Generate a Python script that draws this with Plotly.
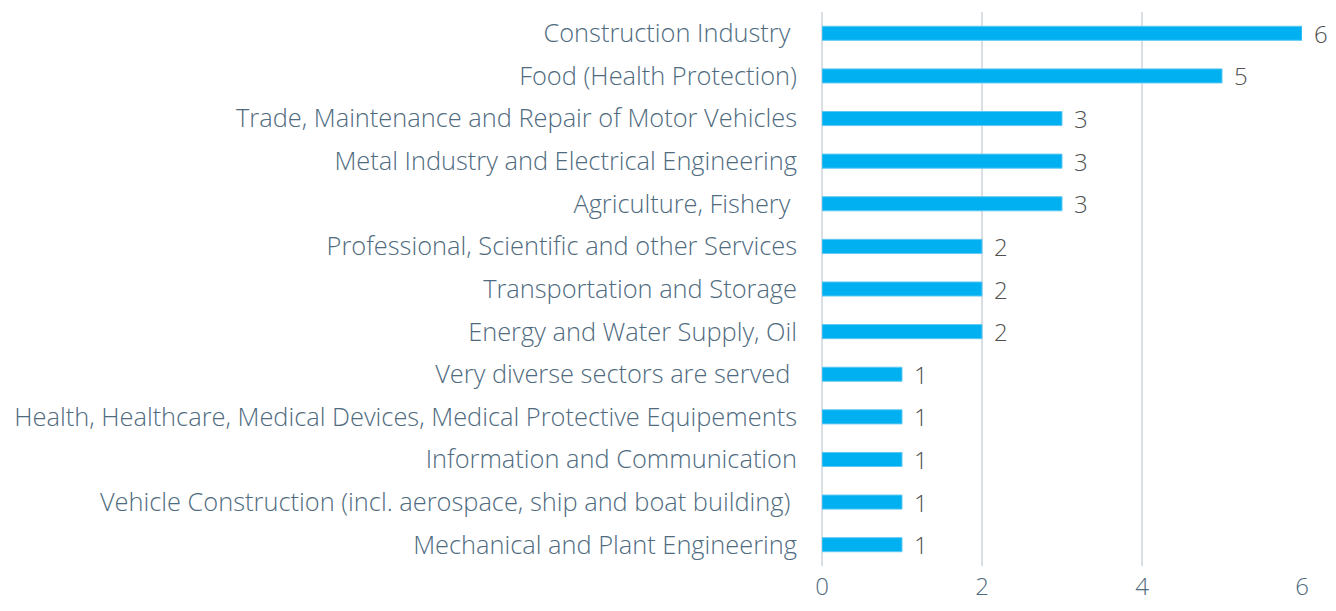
import plotly.graph_objects as go

# sectors (top to bottom as shown) and counts
sectors = [
    "Construction Industry\u00a0",
    "Food (Health Protection)",
    "Trade, Maintenance and Repair of Motor Vehicles",
    "Metal Industry and Electrical Engineering",
    "Agriculture, Fishery\u00a0",
    "Professional, Scientific and other Services",
    "Transportation and Storage",
    "Energy and Water Supply, Oil",
    "Very diverse sectors are served\u00a0",
    "Health, Healthcare, Medical Devices, Medical Protective Equipements",
    "Information and Communication",
    "Vehicle Construction (incl. aerospace, ship and boat building)\u00a0",
    "Mechanical and Plant Engineering",
]
counts = [6, 5, 3, 3, 3, 2, 2, 2, 1, 1, 1, 1, 1]

FONT = "Open Sans"
LABEL_COLOR = "#4f6b80"

fig = go.Figure()
fig.add_trace(go.Bar(
    y=sectors,
    x=counts,
    orientation="h",
    marker=dict(color="#00b0f0", line=dict(color="#5fc8f2", width=1)),
    width=0.33,
    hoverinfo="x+y",
))

# value labels to the right of each bar
for s, c in zip(sectors, counts):
    fig.add_annotation(
        x=c, y=s, text=str(c), showarrow=False,
        xanchor="left", xshift=10,
        font=dict(family=FONT, size=24, color="#505050", weight=300),
    )

# the page body adds an 8px offset, keep the figure inside the window
fig.update_layout(
    width=1320, height=595,
    margin=dict(l=814, r=26, t=4, b=37),
    paper_bgcolor="white", plot_bgcolor="white",
    showlegend=False,
    font=dict(family=FONT, size=25.4, color=LABEL_COLOR, weight=300),
)
fig.update_xaxes(
    range=[0, 6], dtick=2, showgrid=True, gridcolor="#d9dfe4", gridwidth=2,
    zeroline=True, zerolinecolor="#d9dfe4", zerolinewidth=2,
    showline=False, ticks="", ticklabelstandoff=4, automargin=False,
    tickfont=dict(family=FONT, size=24, color=LABEL_COLOR, weight=300),
)
fig.update_yaxes(
    categoryorder="array", categoryarray=sectors[::-1],
    showgrid=False, showline=False, ticks="", ticklabelstandoff=24,
    automargin=False,
    tickfont=dict(family=FONT, size=25.4, color=LABEL_COLOR, weight=300),
)

fig.write_html("out.html")
